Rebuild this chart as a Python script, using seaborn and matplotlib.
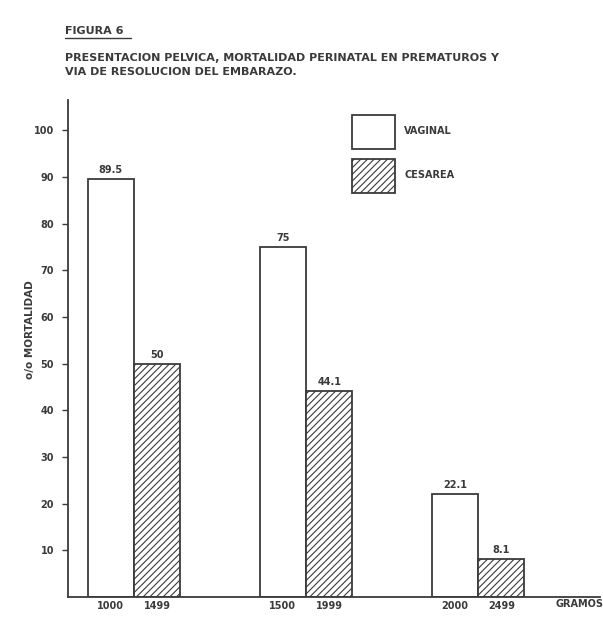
import pandas as pd
import numpy as np
import matplotlib.pyplot as plt
import seaborn as sns

# weight ranges (grams) and perinatal mortality (%) per delivery route
groups = ['1000-1499', '1500-1999', '2000-2499']
tick_labels = ['1000', '1499', '1500', '1999', '2000', '2499']
vaginal = [89.5, 75, 22.1]
cesarea = [50, 44.1, 8.1]
routes = ['VAGINAL', 'CESAREA']

ink = '#3a3a3a'

df = pd.DataFrame({
    'grupo': groups * 2,
    'via': [routes[0]] * 3 + [routes[1]] * 3,
    'mortalidad': vaginal + cesarea,
})

sns.set_style('ticks')
plt.rcParams['font.family'] = ['Liberation Sans Narrow', 'DejaVu Sans']
plt.rcParams['hatch.linewidth'] = 0.8
plt.rcParams['hatch.color'] = ink

fig = plt.figure(figsize=(6.03, 6.18), dpi=100)
ax = fig.add_axes([68 / 603, 21 / 618, 532 / 603, 497 / 618])

sns.barplot(data=df, x='grupo', y='mortalidad', hue='via', ax=ax,
            palette=['white', 'white'], edgecolor=ink, linewidth=1.3,
            width=0.54, gap=0, legend=False, errorbar=None)

for bar in ax.containers[1]:
    bar.set_hatch('/////')

for cont in ax.containers:
    ax.bar_label(cont, fmt='%g', padding=3, fontsize=7, fontweight='bold', color=ink)

ax.set_xlim(-0.384, 2.709)
ax.set_ylim(0, 106.5)
ax.set_yticks(np.arange(10, 101, 10))
ax.tick_params(axis='y', direction='out', length=4, width=1, color=ink,
               labelsize=7, labelcolor=ink, pad=6)
for lab in ax.get_yticklabels():
    lab.set_fontweight('bold')

# tick labels under each bar, taken from the drawn patches
centers = sorted(p.get_x() + p.get_width() / 2 for p in ax.patches)
ax.set_xticks(centers)
ax.set_xticklabels(tick_labels, fontsize=7, fontweight='bold', color=ink)
ax.tick_params(axis='x', length=0, pad=3)
ax.set_xlabel('')
ax.set_ylabel('')

for s in ['top', 'right']:
    ax.spines[s].set_visible(False)
for s in ['left', 'bottom']:
    ax.spines[s].set_color(ink)
    ax.spines[s].set_linewidth(1.3)

fig.text(580 / 603, 1 - 604 / 618, 'GRAMOS', fontsize=7, fontweight='bold',
         color=ink, ha='center', va='center')
fig.text(30 / 603, 1 - 330 / 618, 'o/o MORTALIDAD', fontsize=7.5, fontweight='bold',
         color=ink, rotation=90, ha='center', va='center')

fig.text(65 / 603, 1 - 31 / 618, 'FIGURA 6', fontsize=8, fontweight='bold',
         color=ink, ha='left', va='center')
fig.add_artist(plt.Line2D([65 / 603, 131 / 603], [1 - 38 / 618, 1 - 38 / 618],
                          color=ink, lw=1))
fig.text(65 / 603, 1 - 58 / 618,
         'PRESENTACION PELVICA, MORTALIDAD PERINATAL EN PREMATUROS Y',
         fontsize=8, fontweight='bold', color=ink, ha='left', va='center')
fig.text(65 / 603, 1 - 72 / 618, 'VIA DE RESOLUCION DEL EMBARAZO.',
         fontsize=8, fontweight='bold', color=ink, ha='left', va='center')

handles = [ax.containers[0][0], ax.containers[1][0]]
leg = fig.legend(handles, routes, loc='upper left',
                 bbox_to_anchor=(347 / 603, 1 - 110 / 618), frameon=False,
                 prop={'size': 7, 'weight': 'bold'}, handlelength=4.4,
                 handleheight=5.0, labelspacing=1.0, handletextpad=1.0,
                 borderpad=0)
for t in leg.get_texts():
    t.set_color(ink)

fig.savefig('out.png', dpi=100, facecolor='white')
